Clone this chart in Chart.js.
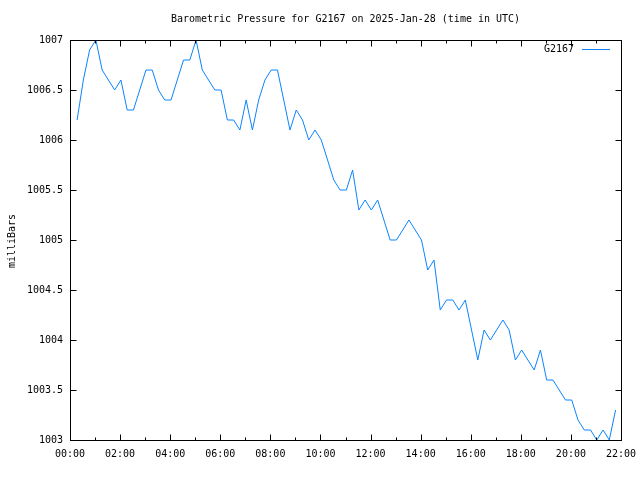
<!DOCTYPE html>
<html>
<head>
<meta charset="utf-8">
<script src="https://cdn.jsdelivr.net/npm/chart.js@4.4.1/dist/chart.umd.min.js"></script>
<style>
  html, body { margin: 0; padding: 0; background: #fff; }
  #wrap { width: 640px; height: 480px; }
</style>
</head>
<body>
<div id="wrap"><canvas id="chart" width="640" height="480"></canvas></div>
<script>
// sample times (UTC), one reading every 15 min
const sampleTimes = [
  '00:17', '00:32', '00:47',
  '01:02', '01:17', '01:32', '01:47', '02:02', '02:17', '02:32', '02:47',
  '03:02', '03:17', '03:32', '03:47', '04:02', '04:17', '04:32', '04:47',
  '05:02', '05:17', '05:32', '05:47', '06:02', '06:17', '06:32', '06:47',
  '07:02', '07:17', '07:32', '07:47', '08:02', '08:17', '08:32', '08:47',
  '09:02', '09:17', '09:32', '09:47', '10:02', '10:17', '10:32', '10:47',
  '11:02', '11:17', '11:32', '11:47', '12:02', '12:17', '12:32', '12:47',
  '13:02', '13:17', '13:32', '13:47', '14:02', '14:17', '14:32', '14:47',
  '15:02', '15:17', '15:32', '15:47', '16:02', '16:17', '16:32', '16:47',
  '17:02', '17:17', '17:32', '17:47', '18:02', '18:17', '18:32', '18:47',
  '19:02', '19:17', '19:32', '19:47', '20:02', '20:17', '20:32', '20:47',
  '21:02', '21:17', '21:32', '21:47'
];

// pressure in milliBars
const pressure = [
  1006.2, 1006.6, 1006.9,
  1007.0, 1006.7, 1006.6, 1006.5, 1006.6, 1006.3, 1006.3, 1006.5,
  1006.7, 1006.7, 1006.5, 1006.4, 1006.4, 1006.6, 1006.8, 1006.8,
  1007.0, 1006.7, 1006.6, 1006.5, 1006.5, 1006.2, 1006.2, 1006.1,
  1006.4, 1006.1, 1006.4, 1006.6, 1006.7, 1006.7, 1006.4, 1006.1,
  1006.3, 1006.2, 1006.0, 1006.1, 1006.0, 1005.8, 1005.6, 1005.5,
  1005.5, 1005.7, 1005.3, 1005.4, 1005.3, 1005.4, 1005.2, 1005.0,
  1005.0, 1005.1, 1005.2, 1005.1, 1005.0, 1004.7, 1004.8, 1004.3,
  1004.4, 1004.4, 1004.3, 1004.4, 1004.1, 1003.8, 1004.1, 1004.0,
  1004.1, 1004.2, 1004.1, 1003.8, 1003.9, 1003.8, 1003.7, 1003.9,
  1003.6, 1003.6, 1003.5, 1003.4, 1003.4, 1003.2, 1003.1, 1003.1,
  1003.0, 1003.1, 1003.0, 1003.3
];

const xTickLabels = ['00:00', '02:00', '04:00', '06:00', '08:00', '10:00',
  '12:00', '14:00', '16:00', '18:00', '20:00', '22:00'];
const yTickLabels = ['1003', '1003.5', '1004', '1004.5', '1005', '1005.5',
  '1006', '1006.5', '1007'];

const titleText = 'Barometric Pressure for G2167 on 2025-Jan-28 (time in UTC)';
const yAxisTitle = 'milliBars';
const seriesName = 'G2167';
const lineColor = '#0a84ff';
const FONT = "'DejaVu Sans Mono', 'Liberation Mono', monospace";

const toMinutes = s => {
  const [h, m] = s.split(':').map(Number);
  return h * 60 + m;
};
const points = sampleTimes.map((t, i) => ({ x: toMinutes(t), y: pressure[i] }));

// gnuplot-like frame: border, inward ticks, title, legend, y label
const gnuplotFrame = {
  id: 'gnuplotFrame',
  afterDraw(chart) {
    const { ctx, chartArea: a, scales } = chart;
    const xs = scales.x, ys = scales.y;
    ctx.save();
    ctx.strokeStyle = '#000';
    ctx.lineWidth = 1;
    const L = Math.round(a.left) + 0.5, R = Math.round(a.right) + 0.5;
    const T = Math.round(a.top) + 0.5, B = Math.round(a.bottom) + 0.5;
    ctx.strokeRect(L, T, R - L, B - T);

    ctx.beginPath();
    // x ticks, major every 2h, minor every hour
    for (let m = 0; m <= 22 * 60; m += 60) {
      const px = Math.round(xs.getPixelForValue(m)) + 0.5;
      const len = m % 120 === 0 ? 6 : 3;
      ctx.moveTo(px, B); ctx.lineTo(px, B - len);
      ctx.moveTo(px, T); ctx.lineTo(px, T + len);
    }
    // y ticks
    yTickLabels.forEach(lbl => {
      const py = Math.round(ys.getPixelForValue(Number(lbl))) + 0.5;
      ctx.moveTo(L, py); ctx.lineTo(L + 6, py);
      ctx.moveTo(R, py); ctx.lineTo(R - 6, py);
    });
    ctx.stroke();

    ctx.fillStyle = '#000';
    ctx.font = '10px ' + FONT;
    ctx.textBaseline = 'middle';

    // title
    ctx.textAlign = 'center';
    ctx.fillText(titleText, (a.left + a.right) / 2, 19);

    // legend
    ctx.textAlign = 'right';
    ctx.fillText(seriesName, 574, 49);
    ctx.strokeStyle = lineColor;
    ctx.beginPath();
    ctx.moveTo(582, 49.5); ctx.lineTo(610, 49.5);
    ctx.stroke();

    // rotated y label
    ctx.translate(12, 241);
    ctx.rotate(-Math.PI / 2);
    ctx.textAlign = 'center';
    ctx.fillText(yAxisTitle, 0, 0);
    ctx.restore();
  }
};

new Chart(document.getElementById('chart'), {
  type: 'line',
  data: {
    datasets: [{
      label: seriesName,
      data: points,
      borderColor: lineColor,
      borderWidth: 1,
      pointRadius: 0,
      tension: 0,
      fill: false
    }]
  },
  options: {
    responsive: false,
    devicePixelRatio: 1,
    animation: false,
    layout: { padding: { top: 40, right: 19, left: 0, bottom: 0 } },
    plugins: {
      legend: { display: false },
      title: { display: false },
      tooltip: { enabled: false }
    },
    scales: {
      x: {
        type: 'linear',
        min: 0,
        max: 22 * 60,
        grid: { display: false, drawTicks: false },
        border: { display: false },
        afterFit: s => {
          s.height = 40;
          s.paddingLeft = 0;
          s.paddingRight = 0;
        },
        afterBuildTicks: s => {
          s.ticks = xTickLabels.map((_, i) => ({ value: i * 120 }));
        },
        ticks: {
          padding: 8,
          maxRotation: 0,
          autoSkip: false,
          color: '#000',
          font: { family: FONT, size: 10 },
          callback: v => xTickLabels[Math.round(v / 120)]
        }
      },
      y: {
        min: 1003,
        max: 1007,
        grid: { display: false, drawTicks: false },
        border: { display: false },
        afterFit: s => {
          s.width = 70;
          s.paddingTop = 0;
          s.paddingBottom = 0;
        },
        afterBuildTicks: s => {
          s.ticks = yTickLabels.map(l => ({ value: Number(l) }));
        },
        ticks: {
          padding: 7,
          color: '#000',
          font: { family: FONT, size: 10 },
          callback: (v, i) => yTickLabels[i]
        }
      }
    }
  },
  plugins: [gnuplotFrame]
});
</script>
</body>
</html>
